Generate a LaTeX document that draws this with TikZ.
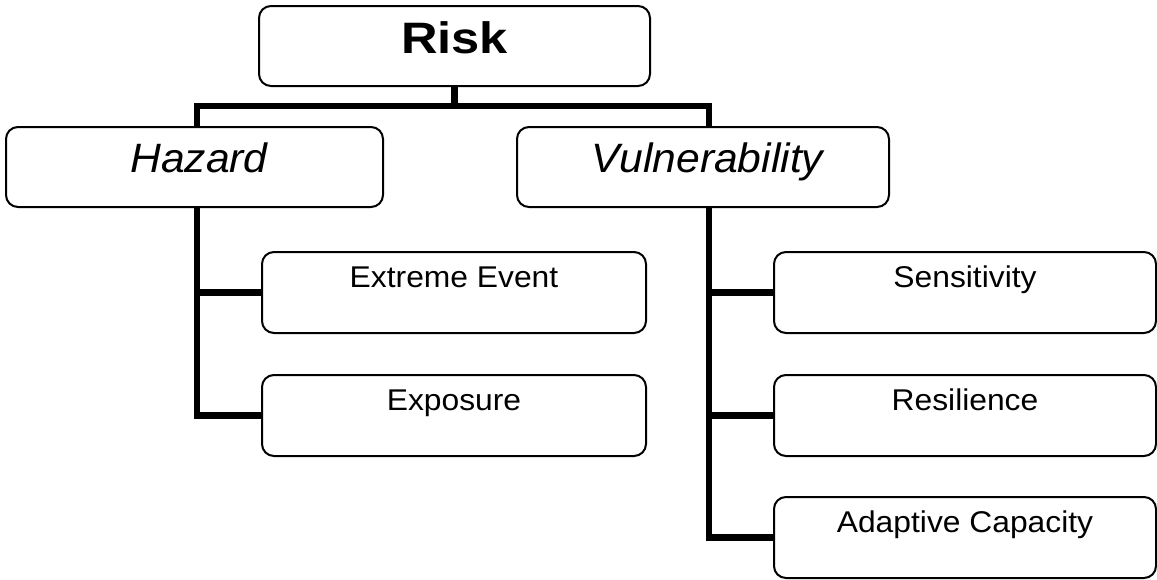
\documentclass[tikz,border=0pt]{standalone}
\usepackage{fontspec}
\setmainfont{Liberation Sans}
\newfontfamily\riskfont{Liberation Sans}[FakeStretch=1.15]
\newfontfamily\midfont{Liberation Sans}[FakeStretch=1.04]
\newfontfamily\lowfont{Liberation Sans}[FakeStretch=1.06]
\begin{document}
\begin{tikzpicture}[x=1pt,y=-1pt,
  box/.style={draw, line width=2pt, rounded corners=12pt, inner sep=0pt, align=center, anchor=north west},
  topbox/.style={box, minimum width=391pt, minimum height=80pt, text height=47pt, text depth=33pt,
    font=\riskfont\bfseries\fontsize{44}{50}\selectfont},
  midbox/.style={box, minimum height=80pt, text height=45pt, text depth=35pt,
    font=\midfont\itshape\fontsize{41}{48}\selectfont},
  lowbox/.style={box, minimum width=384pt, minimum height=81pt, text height=35pt, text depth=46pt,
    font=\lowfont\fontsize{30}{36}\selectfont},
  conn/.style={line width=6.5pt}]
\useasboundingbox (0,0) rectangle (1157,579);
\fill[white] (0,0) rectangle (1157,579);

\node[topbox] (risk) at (258,5) {Risk};
\node[midbox, minimum width=377pt] (hz) at (5,126) {\hspace{9pt}Hazard};
\node[midbox, minimum width=372pt] (vn) at (516,126) {\hspace{9pt}Vulnerability};

\node[lowbox] (ex) at (261,251) {Extreme Event};
\node[lowbox] (ep) at (261,374) {Exposure};
\node[lowbox, minimum width=382pt] (se) at (773,251) {Sensitivity};
\node[lowbox, minimum width=382pt] (re) at (773,374) {Resilience};
\node[lowbox, minimum width=382pt] (ad) at (773,496) {Adaptive Capacity};

\coordinate (ht) at (197,106);
\coordinate (vt) at (709,106);

\draw[conn] (risk.south) -- (risk.south |- ht);
\draw[conn] (hz.north -| ht) -- (ht) -- (vt) -- (vn.north -| vt);

\draw[conn] (hz.south -| ht) -- (ht |- ex.west) -- (ex.west);
\draw[conn] (ht |- ex.west) -- (ht |- ep.west) -- (ep.west);

\draw[conn] (vn.south -| vt) -- (vt |- se.west) -- (se.west);
\draw[conn] (vt |- se.west) -- (vt |- re.west) -- (re.west);
\draw[conn] (vt |- re.west) -- (vt |- ad.west) -- (ad.west);
\end{tikzpicture}
\end{document}
